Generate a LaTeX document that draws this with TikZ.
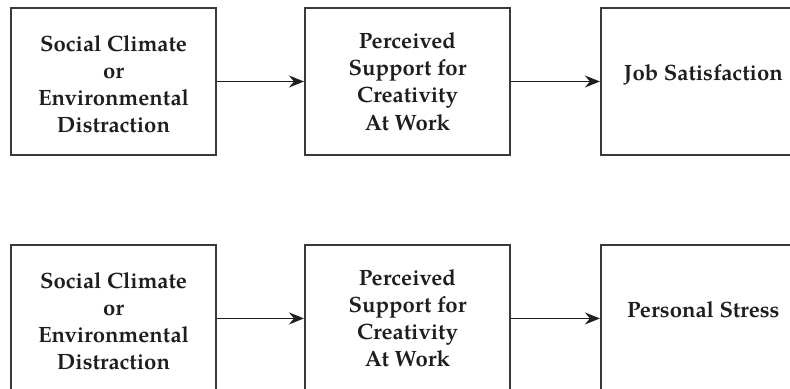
\documentclass[tikz,border=0pt]{standalone}
\usepackage{fontspec}
\setmainfont{TeX Gyre Pagella}
\usepackage{xcolor}
\usepackage{tikz}
\usetikzlibrary{arrows.meta,positioning}
\definecolor{ink}{HTML}{1E1E1E}
\definecolor{frame}{HTML}{3A3A3A}
\tikzset{
  box/.style={draw=frame, line width=1.1pt, minimum width=4.1cm, minimum height=2.94cm,
    inner sep=0pt, align=center, text=ink, font=\fontsize{12.6}{15.4}\selectfont\bfseries},
  arr/.style={draw=ink, line width=0.9pt, -{Stealth[length=0.3cm,width=0.24cm,inset=0.1cm]}},
}
% shift a text block up or down inside its box
\newcommand{\nudge}[2]{\raisebox{#1}[\height][\depth]{\begin{tabular}{@{}c@{}}#2\end{tabular}}}

\begin{document}
\begin{tikzpicture}
  \useasboundingbox (0,0) rectangle (15.8,-7.76);
  \clip (0,0) rectangle (15.8,-7.76);

  % upper chain
  \node[box] (climA) at (2.27,-1.63) {\nudge{-0.1cm}{Social Climate\\or\\Environmental\\Distraction}};
  \node[box, right=1.74cm of climA] (suppA) {\nudge{-0.05cm}{Perceived\\Support for\\Creativity\\At Work}};
  \node[box, right=1.78cm of suppA] (satis) {\nudge{0.12cm}{Job Satisfaction}};

  % lower chain
  \node[box, below=1.76cm of climA] (climB) {\nudge{-0.1cm}{Social Climate\\or\\Environmental\\Distraction}};
  \node[box, right=1.74cm of climB] (suppB) {\nudge{-0.05cm}{Perceived\\Support for\\Creativity\\At Work}};
  \node[box, right=1.78cm of suppB] (stress) {\nudge{0.12cm}{Personal Stress}};

  \draw[arr] (climA) -- (suppA);
  \draw[arr] (suppA) -- (satis);
  \draw[arr] (climB) -- (suppB);
  \draw[arr] (suppB) -- (stress);
\end{tikzpicture}
\end{document}
